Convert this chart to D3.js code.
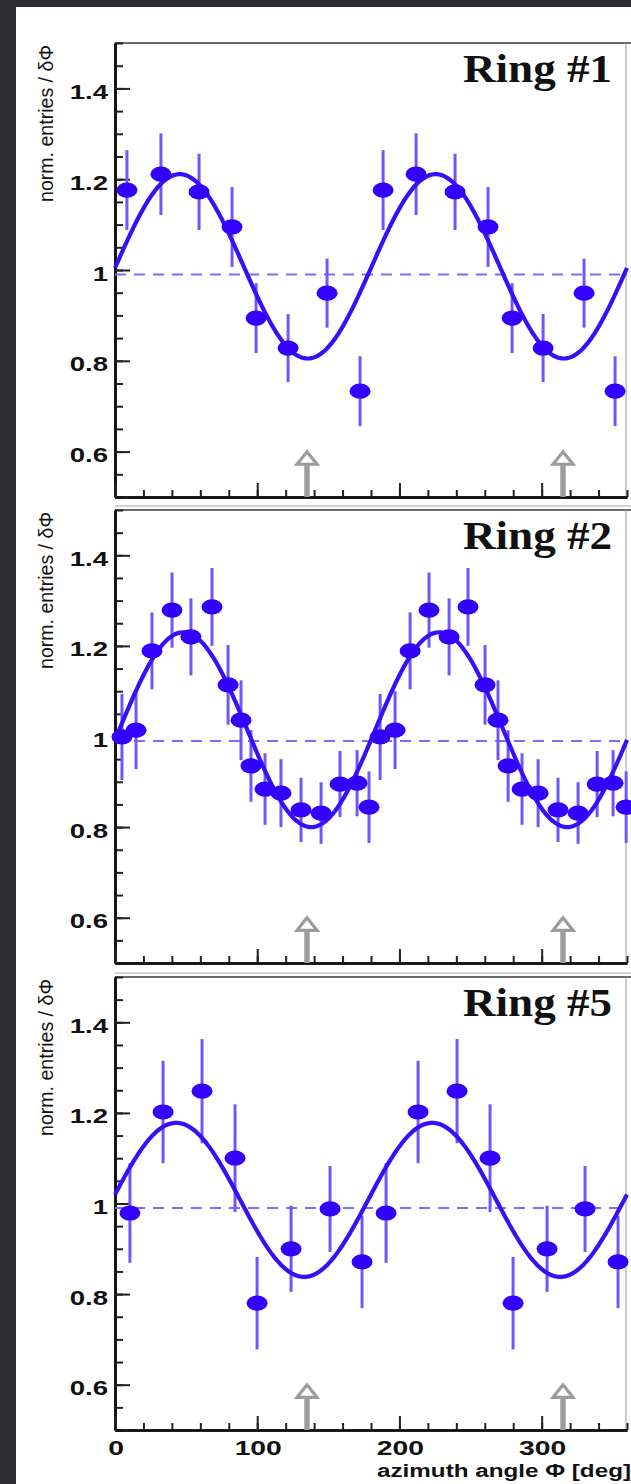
<!DOCTYPE html>
<html><head><meta charset="utf-8">
<script src="https://cdn.jsdelivr.net/npm/d3@7"></script>
<style>body{margin:0;background:#2b2b30;} svg{display:block}</style>
</head><body>
<svg id="c" width="631" height="1484"></svg>
<script>
// ---------- data ----------
const ringLabels = ["Ring #1", "Ring #2", "Ring #5"];

const phiRing1 = [8.4, 32.3, 59.1, 82.3, 99.2, 121.7, 149.1, 172.3,
                  188.5, 211.7, 239.1, 262.3, 279.2, 301.0, 329.8, 351.6];
const valRing1 = [1.176, 1.211, 1.172, 1.095, 0.894, 0.828, 0.949, 0.733,
                  1.176, 1.211, 1.172, 1.095, 0.894, 0.828, 0.949, 0.733];
const errRing1 = [0.088, 0.090, 0.084, 0.088, 0.077, 0.075, 0.076, 0.077,
                  0.088, 0.090, 0.084, 0.088, 0.077, 0.075, 0.076, 0.077];

const phiRing2 = [4.9, 14.8, 26.0, 40.1, 53.4, 68.2, 79.5, 88.6, 95.6, 105.5, 116.7, 130.8, 144.9, 158.2, 170.2, 178.6,
                  186.4, 196.9, 207.5, 220.8, 234.9, 248.2, 260.2, 269.3, 276.4, 286.2, 297.5, 311.5, 325.6, 339.0, 350.2, 359.4];
const valRing2 = [0.999, 1.014, 1.189, 1.279, 1.220, 1.286, 1.114, 1.036, 0.935, 0.884, 0.875, 0.838, 0.831, 0.895, 0.897, 0.844,
                  0.999, 1.014, 1.189, 1.279, 1.220, 1.286, 1.114, 1.036, 0.935, 0.884, 0.875, 0.838, 0.831, 0.895, 0.897, 0.844];
const errRing2 = [0.095, 0.086, 0.085, 0.083, 0.085, 0.086, 0.088, 0.088, 0.079, 0.079, 0.075, 0.071, 0.068, 0.073, 0.073, 0.079,
                  0.095, 0.086, 0.085, 0.083, 0.085, 0.086, 0.088, 0.088, 0.079, 0.079, 0.075, 0.071, 0.068, 0.073, 0.073, 0.079];

const phiRing5 = [10.5, 33.8, 61.2, 84.4, 99.9, 123.8, 151.2, 173.7,
                  190.6, 213.1, 240.5, 263.7, 279.9, 303.8, 330.5, 353.7];
const valRing5 = [0.979, 1.202, 1.248, 1.100, 0.780, 0.900, 0.988, 0.871,
                  0.979, 1.202, 1.248, 1.100, 0.780, 0.900, 0.988, 0.871];
const errRing5 = [0.110, 0.113, 0.115, 0.119, 0.102, 0.095, 0.095, 0.102,
                  0.110, 0.113, 0.115, 0.119, 0.102, 0.095, 0.095, 0.102];

// cos(2phi) fit parameters per ring
const fitConst = [1.008, 1.015, 1.008];
const fitAmp   = [0.203, 0.215, 0.170];
const fitPhase = [45.5, 48, 43];

const refLevel = 0.99;
const arrowAngles = [135, 315];
const arrowTip = 0.603;

const yTickValues = [0.6, 0.8, 1, 1.2, 1.4];
const yTickLabels = ["0.6", "0.8", "1", "1.2", "1.4"];
const xTickValues = [0, 100, 200, 300];
const xTickLabels = ["0", "100", "200", "300"];
const yTitle = "norm. entries / δΦ";
const xTitle = "azimuth angle Φ [deg]";

// ---------- drawing ----------
const W = 631, H = 1484;
const svg = d3.select("#c");
svg.append("rect").attr("width", W).attr("height", H).attr("fill", "#2b2b30");
svg.append("rect").attr("x", 16).attr("y", 7).attr("width", W - 16).attr("height", H - 7).attr("fill", "#ffffff");

const rings = [
  {phi: phiRing1, val: valRing1, err: errRing1},
  {phi: phiRing2, val: valRing2, err: errRing2},
  {phi: phiRing5, val: valRing5, err: errRing5}
];
const panels = [{top: 43, bottom: 497}, {top: 510, bottom: 963}, {top: 977, bottom: 1430}];

const x = d3.scaleLinear().domain([0, 360]).range([115, 627]);
const markColor = "#3300ff", errColor = "#6d58ff", dashColor = "#7a6cff";
const SX = 1.38; // horizontal stretch of the original figure

rings.forEach((r, i) => {
  const p = panels[i];
  const y = d3.scaleLinear().domain([0.5, 1.5]).range([p.bottom, p.top]);
  const g = svg.append("g");

  if (i > 0) {
    g.append("line").attr("x1", 115).attr("x2", W).attr("y1", p.top - 4).attr("y2", p.top - 4)
      .attr("stroke", "#c4c4c4").attr("stroke-width", 1.5);
  }
  // frame top & right
  g.append("line").attr("x1", 115).attr("x2", W).attr("y1", p.top).attr("y2", p.top)
    .attr("stroke", "#3a3a3a").attr("stroke-width", 1.6);
  g.append("line").attr("x1", x(360) - 1).attr("x2", x(360) - 1).attr("y1", p.top).attr("y2", p.bottom)
    .attr("stroke", "#9a9a9a").attr("stroke-width", 1);

  // y axis
  const yMinor = d3.axisLeft(y).tickValues(y.ticks(20)).tickSizeInner(-8).tickSizeOuter(0).tickFormat("");
  const yMajor = d3.axisLeft(y).tickValues(yTickValues).tickSizeInner(-15).tickSizeOuter(0).tickFormat("");
  [yMinor, yMajor].forEach(ax => {
    const a = g.append("g").attr("transform", `translate(${x(0)},0)`).call(ax);
    a.select(".domain").attr("stroke", "#111").attr("stroke-width", 2.6);
    a.selectAll(".tick line").attr("stroke", "#222").attr("stroke-width", 2);
  });
  // x axis
  const xMinor = d3.axisBottom(x).tickValues(x.ticks(18)).tickSizeInner(-7).tickSizeOuter(0).tickFormat("");
  const xMajor = d3.axisBottom(x).tickValues(xTickValues).tickSizeInner(-14).tickSizeOuter(0).tickFormat("");
  [xMinor, xMajor].forEach(ax => {
    const a = g.append("g").attr("transform", `translate(0,${p.bottom})`).call(ax);
    a.select(".domain").attr("stroke", "#111").attr("stroke-width", 2.6);
    a.selectAll(".tick line").attr("stroke", "#222").attr("stroke-width", 2);
  });

  // y tick labels
  g.selectAll(".ylab").data(yTickValues).enter().append("text")
    .attr("transform", d => `translate(108,${y(d) + 10.5}) scale(${SX},1)`)
    .attr("text-anchor", "end")
    .attr("font-family", "Liberation Sans, Arial, sans-serif").attr("font-weight", "bold")
    .attr("font-size", 20).attr("fill", "#111")
    .text((d, k) => yTickLabels[k]);

  // y title
  g.append("text")
    .attr("transform", `translate(53,${p.top + 2}) scale(1.2,1) rotate(-90)`)
    .attr("text-anchor", "end")
    .attr("font-family", "Liberation Sans, Arial, sans-serif")
    .attr("font-size", 17).attr("fill", "#111")
    .attr("textLength", 157).attr("lengthAdjust", "spacingAndGlyphs")
    .text(yTitle);

  // arrows
  arrowAngles.forEach(a => {
    const ax = x(a), tip = y(arrowTip), headH = 14, headW = 10;
    g.append("rect").attr("x", ax - 2.7).attr("y", tip + headH - 1).attr("width", 5.4)
      .attr("height", p.bottom - (tip + headH - 1)).attr("fill", "#9c9c9c");
    g.append("polygon")
      .attr("points", [[ax, tip + 1.5], [ax - headW, tip + headH], [ax + headW, tip + headH]].map(q => q.join(",")).join(" "))
      .attr("fill", "#fff").attr("stroke", "#9c9c9c").attr("stroke-width", 3.2).attr("stroke-linejoin", "miter");
  });

  // reference dashed line
  g.append("line").attr("x1", x(0)).attr("x2", x(360)).attr("y1", y(refLevel)).attr("y2", y(refLevel))
    .attr("stroke", dashColor).attr("stroke-width", 2).attr("stroke-dasharray", "11,8");

  // error bars
  g.selectAll(".eb").data(r.phi).enter().append("line")
    .attr("x1", d => x(d)).attr("x2", d => x(d))
    .attr("y1", (d, k) => y(r.val[k] - r.err[k]))
    .attr("y2", (d, k) => y(r.val[k] + r.err[k]))
    .attr("stroke", errColor).attr("stroke-width", 3);

  // fit curve
  const fit = phi => fitConst[i] + fitAmp[i] * Math.cos(2 * (phi - fitPhase[i]) * Math.PI / 180);
  const angles = x.ticks(360);
  g.append("path").datum(angles)
    .attr("d", d3.line().x(d => x(d)).y(d => y(fit(d))).curve(d3.curveMonotoneX))
    .attr("fill", "none").attr("stroke", "#3510f8").attr("stroke-width", 4.2);

  // markers
  g.selectAll(".pt").data(r.phi).enter().append("ellipse")
    .attr("cx", d => x(d)).attr("cy", (d, k) => y(r.val[k]))
    .attr("rx", 10.5).attr("ry", 7.6).attr("fill", markColor);

  // ring label
  g.append("text")
    .attr("x", 612).attr("y", p.top + 39)
    .attr("text-anchor", "end")
    .attr("font-family", "Liberation Serif, Times New Roman, serif").attr("font-weight", "bold")
    .attr("font-size", 40).attr("fill", "#111")
    .attr("textLength", 149).attr("lengthAdjust", "spacingAndGlyphs")
    .text(ringLabels[i]);

  if (i === rings.length - 1) {
    g.selectAll(".xlab").data(xTickValues).enter().append("text")
      .attr("transform", d => `translate(${x(d) + 1},${p.bottom + 25}) scale(${SX},1)`)
      .attr("text-anchor", "middle")
      .attr("font-family", "Liberation Sans, Arial, sans-serif").attr("font-weight", "bold")
      .attr("font-size", 20.5).attr("fill", "#111")
      .text((d, k) => xTickLabels[k]);
    g.append("text")
      .attr("x", 377).attr("y", p.bottom + 47)
      .attr("font-family", "Liberation Sans, Arial, sans-serif").attr("font-weight", "bold")
      .attr("font-size", 17.5).attr("fill", "#111")
      .attr("textLength", 254).attr("lengthAdjust", "spacingAndGlyphs")
      .text(xTitle);
  }
});
</script>
</body></html>
